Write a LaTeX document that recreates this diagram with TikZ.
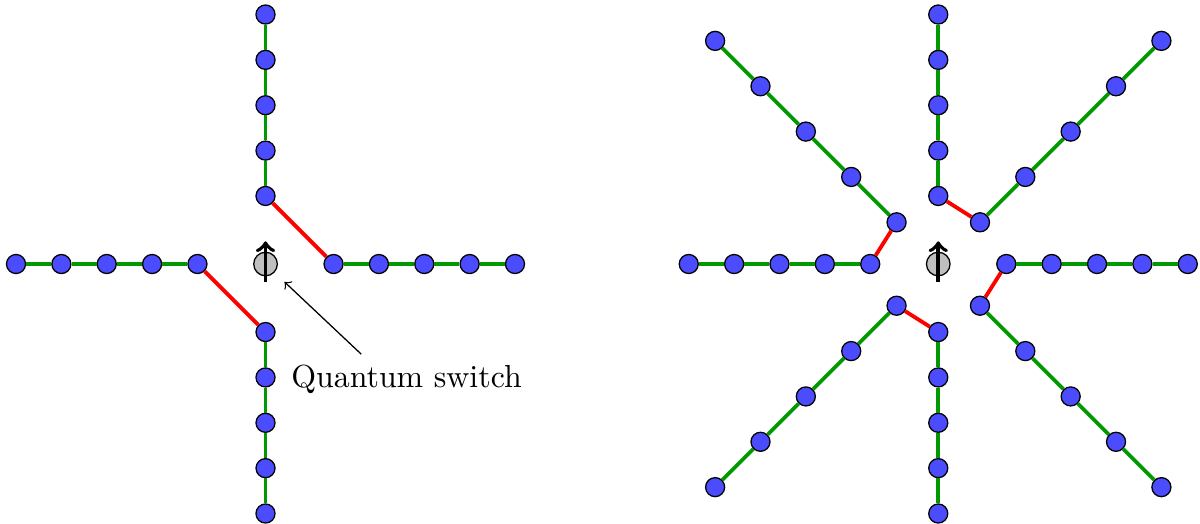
\documentclass[tikz,border=0pt]{standalone}
\tikzset{
  qubit/.style={circle,draw,fill=blue!70,inner sep=0pt,minimum size=2.1mm},
  qswitch/.style={circle,draw,fill=gray!50,inner sep=0pt,minimum size=2.6mm},
  link/.style={green!60!black,line width=1.2pt},
  ent/.style={red,line width=1.2pt},
  spin/.style={->,line width=1.2pt}
}
\begin{document}
\begin{tikzpicture}[x=0.5cm,y=0.5cm]
    \useasboundingbox (-5.853,-5.73) rectangle (20.60,5.82);
    % one switch, four chains
    \node[qswitch] (ls) at (0,0) {};
    \foreach \a in {0,90,180,270}
      \foreach \i in {1,...,5}
        \node[qubit] (l\a-\i) at (\a:{\i+0.5}) {};
    \foreach \a in {0,90,180,270}
      \foreach \i [count=\j from 2] in {1,...,4}
        \draw[link] (l\a-\i) -- (l\a-\j);
    \draw[ent] (l90-1) -- (l0-1);
    \draw[ent] (l180-1) -- (l270-1);
    \draw[spin] ([yshift=-2mm]ls.center) -- ([yshift=2.5mm]ls.center);
    \node[anchor=base west] (lbl) at (0.32,-2.73) {Quantum switch};
    \draw[->,shorten >=1.5mm] ([xshift=-5mm]lbl.north) -- (ls);
    % one switch, eight chains
    \begin{scope}[shift={(14.83,0)}]
      \node[qswitch] (rs) at (0,0) {};
      \foreach \a in {0,90,180,270}
        \foreach \i in {1,...,5}
          \node[qubit] (r\a-\i) at (\a:{\i+0.5}) {};
      \foreach \a in {45,135,225,315}
        \foreach \i in {1,...,5}
          \node[qubit] (r\a-\i) at (\a:{1.3+1.414*(\i-1)}) {};
      \foreach \a in {0,45,...,315}
        \foreach \i [count=\j from 2] in {1,...,4}
          \draw[link] (r\a-\i) -- (r\a-\j);
      \foreach \a/\b in {90/45,180/135,270/225,0/315}
        \draw[ent] (r\a-1) -- (r\b-1);
      \draw[spin] ([yshift=-2mm]rs.center) -- ([yshift=2.5mm]rs.center);
    \end{scope}
\end{tikzpicture}
\end{document}
